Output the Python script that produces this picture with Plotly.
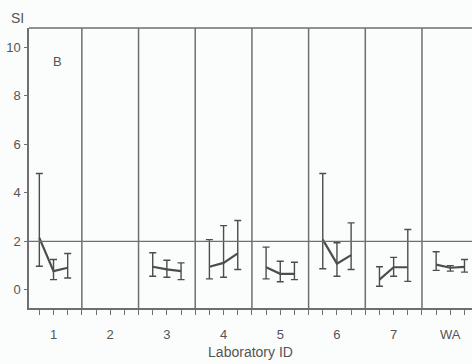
import plotly.graph_objects as go

# Laboratories, three measurements each (Lab 2 reported none)
labs = ["1", "2", "3", "4", "5", "6", "7", "WA"]
si_mean = [
    [2.14, 0.77, 0.91],
    [None, None, None],
    [0.95, 0.84, 0.77],
    [0.95, 1.11, 1.50],
    [0.93, 0.66, 0.66],
    [2.07, 1.08, 1.43],
    [0.42, 0.93, 0.93],
    [1.04, 0.91, 0.95],
]
si_upper = [
    [4.80, 1.25, 1.50],
    [None, None, None],
    [1.53, 1.22, 1.11],
    [2.07, 2.65, 2.86],
    [1.76, 1.18, 1.14],
    [4.80, 1.94, 2.76],
    [0.95, 1.34, 2.49],
    [1.57, 1.00, 1.25],
]
si_lower = [
    [0.97, 0.42, 0.49],
    [None, None, None],
    [0.56, 0.52, 0.42],
    [0.45, 0.52, 0.84],
    [0.45, 0.33, 0.42],
    [0.87, 0.56, 0.84],
    [0.15, 0.56, 0.35],
    [0.80, 0.77, 0.73],
]
threshold = 2
y_ticks = [0, 2, 4, 6, 8, 10]

ink = "#4d4d4d"
rule = "#6f6f6f"
txt = "#555555"
per_lab = 4  # axis units per laboratory panel

fig = go.Figure()
for i, lab in enumerate(labs):
    xs, ys, up, dn = [], [], [], []
    for j in range(3):
        m = si_mean[i][j]
        if m is None:
            continue
        xs.append(i * per_lab + j + 1)
        ys.append(m)
        up.append(si_upper[i][j] - m)
        dn.append(m - si_lower[i][j])
    if not xs:
        continue
    fig.add_trace(go.Scatter(
        x=xs, y=ys, mode="lines",
        line=dict(color=ink, width=2.2),
        error_y=dict(type="data", symmetric=False, array=up, arrayminus=dn,
                     color=ink, thickness=1.4, width=3.5),
        showlegend=False, hoverinfo="skip",
    ))

# panel dividers
for k in range(1, len(labs)):
    fig.add_shape(type="line", x0=k * per_lab, x1=k * per_lab, y0=0, y1=1,
                  xref="x", yref="paper", line=dict(color=rule, width=1.5))
# reference level
fig.add_shape(type="line", x0=0, x1=1, y0=threshold, y1=threshold,
              xref="paper", yref="y", line=dict(color=rule, width=1.3))
# top frame
fig.add_shape(type="line", x0=0, x1=1, y0=1, y1=1,
              xref="paper", yref="paper", line=dict(color=rule, width=1.5))

tick_vals = list(range(1, per_lab * len(labs)))
tick_text = []
for v in tick_vals:
    if v % per_lab == 2:
        tick_text.append(labs[v // per_lab])
    else:
        tick_text.append("")

fig.update_xaxes(
    range=[0.27, 31.53], tickvals=tick_vals, ticktext=tick_text,
    ticks="outside", ticklen=5, tickwidth=1.2, tickcolor=rule,
    ticklabelstandoff=9,
    showline=True, linecolor=rule, linewidth=1.5, showgrid=False, zeroline=False,
    tickfont=dict(size=13, color=txt),
    title=dict(text="Laboratory ID", font=dict(size=14, color=txt), standoff=6),
)
fig.update_yaxes(
    range=[-0.75, 10.8], tickvals=y_ticks,
    ticks="outside", ticklen=3, tickwidth=1.2, tickcolor=rule,
    ticklabelstandoff=1,
    showline=True, linecolor=rule, linewidth=1.5, showgrid=False, zeroline=False,
    tickfont=dict(size=13, color=txt),
)

fig.add_annotation(text="SI", xref="paper", yref="paper", x=0, y=1,
                   xanchor="center", yanchor="middle",
                   xshift=-12, yshift=10, showarrow=False,
                   font=dict(size=14, color=txt))
fig.add_annotation(text="B", xref="x", yref="y", x=2.3, y=9.4,
                   showarrow=False, font=dict(size=13, color=txt))

fig.update_layout(
    width=472, height=364,
    margin=dict(l=29, r=0, t=28, b=56),
    paper_bgcolor="#fbfcfc", plot_bgcolor="#fbfcfc",
    font=dict(family="Liberation Sans, Arial, sans-serif"),
)

fig.write_html("out.html")
